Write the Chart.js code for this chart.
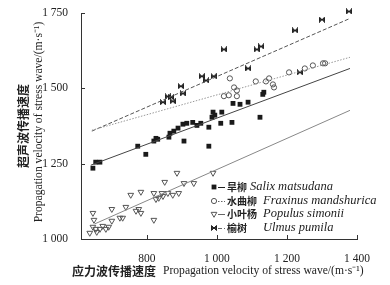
<!DOCTYPE html>
<html>
<head>
<meta charset="utf-8">
<script src="https://cdn.jsdelivr.net/npm/chart.js@4.4.0/dist/chart.umd.min.js"></script>
<style>
html, body { margin: 0; padding: 0; background: #fff; }
#wrap { width: 390px; height: 285px; position: relative; }
</style>
</head>
<body>
<div id="wrap"><canvas id="grafico"></canvas></div>
<script>
// ==========================
// Dados
// ==========================
const xTicks = [800, 1000, 1200, 1400];
const yTicks = [1000, 1250, 1500, 1750];

const salixX = [646, 654, 666, 774, 797, 820, 826, 831, 863, 866, 877, 889, 906, 903, 914, 931, 943, 954, 977, 977, 986, 989, 994, 1011, 1014, 1043, 1046, 1066, 1089, 1123, 1131, 1134];
const salixY = [1235, 1255, 1255, 1308, 1281, 1325, 1334, 1331, 1338, 1351, 1358, 1368, 1325, 1381, 1384, 1387, 1377, 1384, 1371, 1308, 1404, 1421, 1411, 1384, 1421, 1387, 1450, 1447, 1454, 1404, 1480, 1487];

const fraxX = [1020, 1034, 1057, 1037, 1049, 1057, 1111, 1140, 1149, 1160, 1163, 1206, 1251, 1274, 1303, 1309];
const fraxY = [1474, 1477, 1474, 1533, 1503, 1493, 1523, 1523, 1533, 1513, 1503, 1553, 1566, 1576, 1583, 1583];

const populusX = [637, 646, 646, 649, 654, 657, 666, 674, 683, 691, 700, 700, 723, 731, 740, 754, 769, 777, 783, 783, 820, 820, 826, 834, 843, 846, 851, 860, 874, 886, 891, 906, 934, 989];
const populusY = [1020, 1086, 1040, 1063, 1033, 1023, 1033, 1043, 1033, 1040, 1060, 1099, 1070, 1070, 1106, 1146, 1093, 1099, 1086, 1156, 1152, 1063, 1132, 1136, 1152, 1142, 1189, 1152, 1146, 1219, 1152, 1185, 1185, 1219];

const ulmusX = [846, 860, 869, 874, 897, 903, 957, 969, 991, 1020, 1089, 1114, 1126, 1223, 1237, 1300, 1377];
const ulmusY = [1454, 1473, 1470, 1457, 1507, 1483, 1540, 1526, 1540, 1629, 1566, 1629, 1639, 1692, 1553, 1728, 1755];

// retas de regressão (extremos)
const salixFitX = [640, 1380];
const salixFitY = [1245, 1566];
const fraxFitX = [643, 1380];
const fraxFitY = [1361, 1603];
const populusFitX = [651, 1380];
const populusFitY = [1050, 1427];
const ulmusFitX = [643, 1380];
const ulmusFitY = [1358, 1732];

const nomesCN = ['旱柳', '水曲柳', '小叶杨', '榆树'];
const nomesLatim = ['Salix matsudana', 'Fraxinus mandshurica', 'Populus simonii', 'Ulmus pumila'];

const tituloXCN = '应力波传播速度';
const tituloXEN = 'Propagation velocity of stress wave/(m·s⁻¹)';
const tituloYCN = '超声波传播速度';
const tituloYEN = 'Propagation velocity of stress wave/(m·s⁻¹)';

// ==========================
// Utilidades
// ==========================
const pares = (xs, ys) => xs.map((x, i) => ({ x, y: ys[i] }));
const fmt = v => v >= 1000 ? Math.floor(v / 1000) + ' ' + String(v % 1000).padStart(3, '0') : String(v);

// marcador do olmo (gravata)
const marcaUlmus = document.createElement('canvas');
marcaUlmus.width = 6; marcaUlmus.height = 6;
{
  const c = marcaUlmus.getContext('2d');
  c.fillStyle = '#333'; c.strokeStyle = '#222'; c.lineWidth = 1;
  c.beginPath();
  c.moveTo(0.5, 0.5); c.lineTo(5.5, 5.5); c.lineTo(5.5, 0.5); c.lineTo(0.5, 5.5); c.closePath();
  c.fill(); c.stroke();
}

// ==========================
// Datasets
// ==========================
const fit = (xs, ys, cor, dash) => ({
  data: pares(xs, ys), showLine: true, pointRadius: 0, borderColor: cor,
  borderWidth: 1, borderDash: dash, fill: false
});

const estilos = [
  { pointStyle: 'rect', pointRadius: 3.4, backgroundColor: '#1a1a1a', borderColor: '#1a1a1a', borderWidth: 0, dash: [], linha: '#444' },
  { pointStyle: 'circle', pointRadius: 2.6, backgroundColor: 'rgba(0,0,0,0)', borderColor: '#555', borderWidth: 1, dash: [1.5, 1.5], linha: '#999' },
  { pointStyle: 'triangle', pointRadius: 3.3, rotation: 180, backgroundColor: 'rgba(0,0,0,0)', borderColor: '#555', borderWidth: 1, dash: [], linha: '#888' },
  { pointStyle: marcaUlmus, pointRadius: 3, backgroundColor: '#333', borderColor: '#333', borderWidth: 1, dash: [4, 2], linha: '#555' }
];

const pontos = [pares(salixX, salixY), pares(fraxX, fraxY), pares(populusX, populusY), pares(ulmusX, ulmusY)];

const datasets = [
  fit(salixFitX, salixFitY, estilos[0].linha, estilos[0].dash),
  fit(fraxFitX, fraxFitY, estilos[1].linha, estilos[1].dash),
  fit(populusFitX, populusFitY, estilos[2].linha, estilos[2].dash),
  fit(ulmusFitX, ulmusFitY, estilos[3].linha, estilos[3].dash)
];
pontos.forEach((d, i) => {
  const e = estilos[i];
  datasets.push({
    data: d, showLine: false, clip: false,
    pointStyle: e.pointStyle, pointRadius: e.pointRadius, pointRotation: e.rotation || 0,
    backgroundColor: e.backgroundColor, borderColor: e.borderColor, borderWidth: e.borderWidth
  });
});

// ==========================
// Plugins: marcas internas, títulos e legenda
// ==========================
const marcasInternas = {
  id: 'marcasInternas',
  afterDraw(chart) {
    const { ctx, chartArea: a, scales } = chart;
    ctx.save();
    ctx.strokeStyle = '#333'; ctx.lineWidth = 1;
    ctx.beginPath();
    xTicks.forEach(v => {
      const px = Math.round(scales.x.getPixelForValue(v)) + 0.5;
      ctx.moveTo(px, a.bottom); ctx.lineTo(px, a.bottom - 4);
    });
    yTicks.forEach(v => {
      const py = Math.round(scales.y.getPixelForValue(v)) + 0.5;
      ctx.moveTo(a.left, py); ctx.lineTo(a.left + 4, py);
    });
    ctx.stroke();
    ctx.restore();
  }
};

const titulos = {
  id: 'titulos',
  afterDraw(chart) {
    const ctx = chart.ctx;
    ctx.save();
    ctx.fillStyle = '#222';
    ctx.textBaseline = 'middle';
    // eixo x
    ctx.font = 'bold 12px "Noto Sans CJK SC"';
    ctx.textAlign = 'left';
    ctx.fillText(tituloXCN, 72, 271);
    ctx.font = '11.6px "Liberation Serif"';
    ctx.fillText(tituloXEN, 163, 271);
    // eixo y
    ctx.translate(23, 126);
    ctx.rotate(-Math.PI / 2);
    ctx.textAlign = 'center';
    ctx.font = 'bold 12px "Noto Sans CJK SC"';
    ctx.fillText(tituloYCN, 0, 0);
    ctx.font = '11.6px "Liberation Serif"';
    ctx.fillText(tituloYEN, 4, 16);
    ctx.restore();
  }
};

const legenda = {
  id: 'legenda',
  afterDraw(chart) {
    const ctx = chart.ctx;
    const linhas = [187, 201, 214, 228];
    const xLatim = [250, 263, 263, 263];
    ctx.save();
    ctx.textBaseline = 'middle';
    ctx.textAlign = 'left';
    estilos.forEach((e, i) => {
      const y = linhas[i];
      // marcador
      ctx.fillStyle = e.backgroundColor;
      ctx.strokeStyle = e.borderColor;
      ctx.lineWidth = e.borderWidth;
      if (e.pointStyle instanceof HTMLCanvasElement) {
        ctx.drawImage(e.pointStyle, 211, y - 3);
      } else {
        Chart.helpers.drawPoint(ctx, { pointStyle: e.pointStyle, radius: e.pointRadius, rotation: e.rotation || 0, borderWidth: e.borderWidth }, 214, y);
      }
      // amostra da linha
      ctx.beginPath();
      ctx.setLineDash(e.dash);
      ctx.strokeStyle = i === 0 ? '#222' : '#666';
      ctx.lineWidth = 1;
      ctx.moveTo(218, y + 0.5); ctx.lineTo(225, y + 0.5);
      ctx.stroke();
      ctx.setLineDash([]);
      // textos
      ctx.fillStyle = '#222';
      ctx.font = 'bold 10px "Noto Sans CJK SC"';
      ctx.fillText(nomesCN[i], 227, y);
      ctx.font = 'italic 12.5px "Liberation Serif"';
      ctx.fillText(nomesLatim[i], xLatim[i], y);
    });
    ctx.restore();
  }
};

// ==========================
// Gráfico
// ==========================
const ctx = document.getElementById('grafico').getContext('2d');
const grafico = new Chart(ctx, {
  type: 'scatter',
  data: { datasets },
  options: {
    responsive: true,
    maintainAspectRatio: false,
    animation: false,
    devicePixelRatio: 1,
    layout: { padding: { left: 0, top: 13, right: 33, bottom: 0 } },
    plugins: { legend: { display: false }, tooltip: { enabled: false } },
    scales: {
      x: {
        type: 'linear', min: 612, max: 1400,
        afterBuildTicks: s => { s.ticks = xTicks.map(v => ({ value: v })); },
        afterFit: s => { s.height = 46; },
        grid: { display: false },
        border: { display: true, color: '#333', width: 1 },
        ticks: { padding: 5, color: '#222', font: { family: 'Liberation Serif', size: 11.5 }, callback: v => fmt(v), maxRotation: 0 }
      },
      y: {
        type: 'linear', min: 1000, max: 1750,
        afterBuildTicks: s => { s.ticks = yTicks.map(v => ({ value: v })); },
        afterFit: s => { s.width = 81; },
        grid: { display: false },
        border: { display: true, color: '#333', width: 1 },
        ticks: { padding: 5, color: '#222', font: { family: 'Liberation Serif', size: 11.5 }, callback: v => fmt(v) }
      }
    }
  },
  plugins: [marcasInternas, titulos, legenda]
});
</script>
</body>
</html>
